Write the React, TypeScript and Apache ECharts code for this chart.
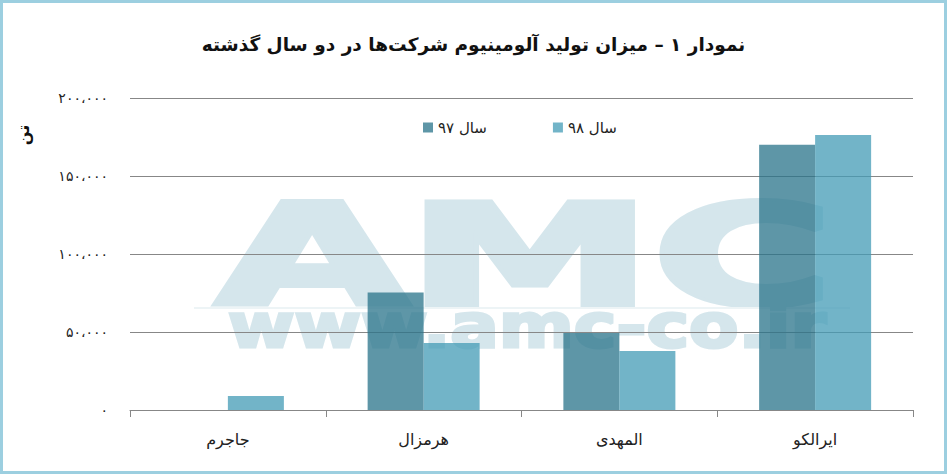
import React, { useEffect, useRef } from "react";
import * as echarts from "echarts";

const categories = ["جاجرم", "هرمزال", "المهدی", "ایرالکو"];
const seriesNames = ["سال ۹۷", "سال ۹۸"];
const values97 = [0, 75300, 49400, 170000];
const values98 = [9000, 43000, 37800, 176300];
const yTicks = [0, 50000, 100000, 150000, 200000];
const yTickLabels = ["۰", "۵۰،۰۰۰", "۱۰۰،۰۰۰", "۱۵۰،۰۰۰", "۲۰۰،۰۰۰"];
const titleText = "نمودار ۱ – میزان تولید آلومینیوم شرکت‌ها در دو سال گذشته";
const unitText = "تن";
const watermarkBig = "AMC";
const watermarkSmall = "www.amc-co.ir";

const FONT = "'DejaVu Sans', 'Noto Sans', sans-serif";

export default function App() {
  const ref = useRef<HTMLDivElement>(null);
  useEffect(() => {
    document.body.style.margin = "0";
    const chart = echarts.init(ref.current!, null, { renderer: "svg" });
    const wm = "#d5e6ec";
    chart.setOption({
      animation: false,
      backgroundColor: "#ffffff",
      title: {
        text: titleText,
        left: "center",
        top: 30,
        textStyle: { fontFamily: FONT, fontSize: 18.5, fontWeight: "bold", color: "#111" },
      },
      legend: {
        left: 418,
        top: 115,
        itemWidth: 10,
        itemHeight: 10,
        itemGap: 66,
        icon: "rect",
        textStyle: { fontFamily: FONT, fontSize: 15, color: "#222" },
        data: seriesNames,
      },
      graphic: {
        elements: [
          {
            type: "rect",
            z: -20,
            silent: true,
            shape: { x: 1.5, y: 1.5, width: 944, height: 471 },
            style: { fill: "none", stroke: "#9ccfe0", lineWidth: 3 },
          },
          {
            type: "text",
            z: -10,
            silent: true,
            x: 525,
            y: 185,
            scaleX: 1.76,
            scaleY: 1,
            style: {
              text: watermarkBig,
              font: `bold 140px ${FONT}`,
              fill: wm,
              stroke: wm,
              lineWidth: 6,
              align: "center",
              verticalAlign: "top",
            },
          },
          {
            type: "rect",
            z: -10,
            silent: true,
            shape: { x: 194, y: 307, width: 656, height: 2 },
            style: { fill: "#edf4f6" },
          },
          {
            type: "text",
            z: -10,
            silent: true,
            x: 527,
            y: 296,
            scaleX: 1.2,
            scaleY: 1,
            style: {
              text: watermarkSmall,
              font: `bold 60px ${FONT}`,
              fill: wm,
              stroke: wm,
              lineWidth: 3,
              align: "center",
              verticalAlign: "top",
            },
          },
          {
            type: "text",
            silent: true,
            x: 23,
            y: 135,
            rotation: Math.PI / 2,
            style: {
              text: unitText,
              font: `bold 16px ${FONT}`,
              fill: "#111",
              align: "center",
              verticalAlign: "middle",
            },
          },
        ],
      },
      grid: { left: 130, right: 34, top: 98, bottom: 64 },
      xAxis: {
        type: "category",
        data: categories,
        axisLine: { lineStyle: { color: "#878787", width: 1 } },
        axisTick: { show: true, length: 7, lineStyle: { color: "#878787" } },
        axisLabel: { fontFamily: FONT, fontSize: 16, color: "#222", margin: 21 },
      },
      yAxis: {
        type: "value",
        min: 0,
        max: 200000,
        interval: 50000,
        axisLine: { show: false },
        axisTick: { show: false },
        splitLine: { lineStyle: { color: "#878787", width: 1 } },
        axisLabel: {
          fontFamily: FONT,
          fontSize: 14,
          color: "#222",
          margin: 22,
          formatter: (v: number) => {
            const i = yTicks.indexOf(v);
            return i >= 0 ? yTickLabels[i] : "";
          },
        },
      },
      series: [
        {
          name: seriesNames[0],
          type: "bar",
          data: values97,
          barWidth: 56,
          barGap: "0%",
          itemStyle: { color: "rgba(40,115,138,0.75)" },
        },
        {
          name: seriesNames[1],
          type: "bar",
          data: values98,
          barWidth: 56,
          barGap: "0%",
          itemStyle: { color: "rgba(67,155,182,0.75)" },
        },
      ],
    });
    return () => chart.dispose();
  }, []);
  return <div ref={ref} style={{ width: 947, height: 474 }} />;
}
